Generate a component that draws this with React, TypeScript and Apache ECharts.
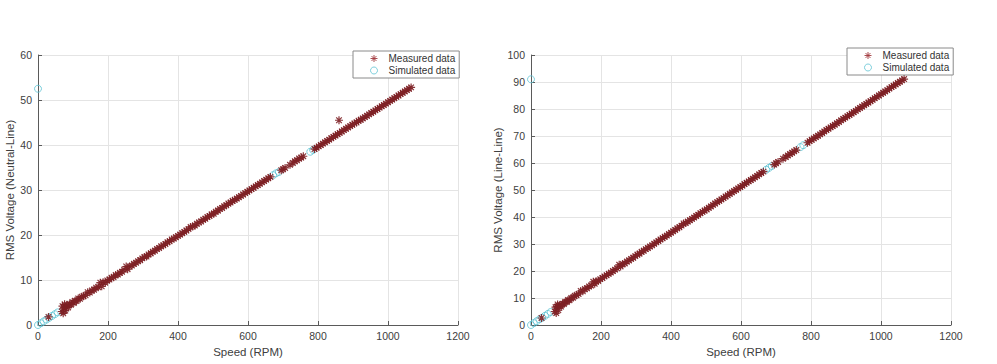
import React, { useEffect, useRef } from "react";
import * as echarts from "echarts";

// ---------- data ----------
const xTicks = [0, 200, 400, 600, 800, 1000, 1200];

// Left panel: RMS Voltage (Neutral-Line)
const measuredNL: number[][] = [
  [30, 1.8], [68, 3.0], [70, 4.2], [72, 2.6], [74, 3.8], [76, 4.6], [78, 3.2], [80, 4.0],
  [83, 4.5], [86, 3.9], [90, 4.6], [94, 4.5], [98, 5.1], [102, 4.9], [106, 5.4], [110, 5.3],
  [115, 5.9], [120, 5.8], [125, 6.3], [130, 6.4], [136, 6.6], [142, 7.3], [148, 7.2], [154, 7.7],
  [160, 7.8], [166, 8.3], [172, 8.4], [178, 9.4], [182, 8.6], [186, 9.5], [192, 9.4], [198, 9.9],
  [204, 10.1], [210, 10.5], [216, 10.6], [222, 11.1], [228, 11.2], [234, 11.6], [240, 11.8], [246, 12.3],
  [252, 13.0], [256, 12.4], [262, 13.0], [268, 13.2], [274, 13.6], [280, 13.8], [286, 14.2], [292, 14.4],
  [298, 14.8], [304, 15.1], [310, 15.2], [316, 15.7], [322, 15.9], [328, 16.3], [334, 16.5], [340, 16.9],
  [346, 17.1], [352, 17.5], [358, 17.7], [364, 18.0], [370, 18.4], [376, 18.6], [382, 19.0], [388, 19.2],
  [394, 19.5], [400, 19.8], [406, 20.1], [412, 20.4], [418, 20.7], [424, 21.0], [430, 21.3], [436, 21.8],
  [442, 21.9], [448, 22.1], [454, 22.5], [460, 22.8], [466, 23.0], [472, 23.4], [478, 23.6], [484, 24.0],
  [490, 24.2], [496, 24.6], [502, 24.7], [508, 25.2], [514, 25.4], [520, 25.8], [526, 26.0], [532, 26.4],
  [538, 26.6], [544, 27.0], [550, 27.2], [556, 27.6], [562, 27.8], [568, 28.1], [574, 28.4], [580, 28.7],
  [586, 29.0], [592, 29.3], [598, 29.6], [604, 29.9], [610, 30.2], [616, 30.5], [622, 30.8], [628, 31.1],
  [634, 31.4], [640, 31.7], [646, 32.0], [652, 32.3], [658, 32.6], [664, 32.9], [695, 34.4], [700, 34.6],
  [706, 34.9], [720, 35.6], [728, 36.0], [734, 36.4], [740, 36.6], [746, 37.0], [752, 37.2], [758, 37.5],
  [790, 39.1], [796, 39.4], [802, 39.7], [808, 40.0], [814, 40.3], [820, 40.6], [826, 40.9], [832, 41.2],
  [838, 41.5], [844, 41.8], [850, 42.1], [856, 42.4], [860, 45.5], [862, 42.7], [868, 43.0], [874, 43.3],
  [880, 43.6], [886, 43.9], [892, 44.2], [898, 44.5], [904, 44.8], [910, 45.0], [916, 45.4], [922, 45.6],
  [928, 45.9], [934, 46.2], [940, 46.5], [946, 46.8], [952, 47.1], [958, 47.4], [964, 47.7], [970, 48.0],
  [976, 48.3], [982, 48.6], [988, 48.9], [994, 49.2], [1000, 49.5], [1006, 49.8], [1012, 50.1], [1018, 50.4],
  [1024, 50.7], [1030, 51.0], [1036, 51.3], [1042, 51.6], [1048, 51.9], [1054, 52.2], [1060, 52.5], [1066, 52.8],
];
const simulatedNL: number[][] = [
  [0, 52.5], [0, 0], [8, 0.4], [16, 0.8], [24, 1.2], [32, 1.6], [40, 2.0], [48, 2.4], [56, 2.8],
  [672, 33.3], [680, 33.7], [688, 34.0], [778, 38.5], [786, 38.9],
];

// Right panel: RMS Voltage (Line-Line)
const measuredLL: number[][] = [
  [30, 2.6], [68, 5.0], [70, 6.6], [72, 4.4], [74, 6.8], [76, 7.6], [78, 5.5], [80, 7.0],
  [83, 7.4], [86, 6.8], [90, 7.9], [94, 7.8], [98, 8.6], [102, 8.5], [106, 9.3], [110, 9.2],
  [115, 10.0], [120, 10.1], [125, 10.8], [130, 11.0], [136, 11.5], [142, 12.6], [148, 12.5], [154, 13.3],
  [160, 13.6], [166, 14.3], [172, 14.6], [178, 16.0], [182, 15.3], [186, 16.2], [192, 16.3], [198, 17.0],
  [204, 17.4], [210, 18.0], [216, 18.4], [222, 19.0], [228, 19.4], [234, 20.0], [240, 20.5], [246, 21.0],
  [252, 22.3], [256, 21.7], [262, 22.6], [268, 22.8], [274, 23.5], [280, 23.9], [286, 24.5], [292, 24.9],
  [298, 25.5], [304, 26.1], [310, 26.4], [316, 27.1], [322, 27.5], [328, 28.1], [334, 28.5], [340, 29.1],
  [346, 29.5], [352, 30.1], [358, 30.6], [364, 31.1], [370, 31.7], [376, 32.1], [382, 32.7], [388, 33.1],
  [394, 33.7], [400, 34.2], [406, 34.7], [412, 35.2], [418, 35.8], [424, 36.2], [430, 36.8], [436, 37.6],
  [442, 37.8], [448, 38.3], [454, 38.8], [460, 39.3], [466, 39.8], [472, 40.4], [478, 40.8], [484, 41.4],
  [490, 41.9], [496, 42.4], [502, 42.8], [508, 43.4], [514, 43.9], [520, 44.5], [526, 45.0], [532, 45.5],
  [538, 46.0], [544, 46.5], [550, 47.0], [556, 47.6], [562, 48.0], [568, 48.6], [574, 49.1], [580, 49.6],
  [586, 50.1], [592, 50.6], [598, 51.1], [604, 51.6], [610, 52.2], [616, 52.7], [622, 53.2], [628, 53.7],
  [634, 54.2], [640, 54.7], [646, 55.2], [652, 55.8], [658, 56.3], [664, 56.8], [695, 59.4], [700, 59.9],
  [706, 60.4], [720, 61.6], [728, 62.2], [734, 62.8], [740, 63.3], [746, 63.8], [752, 64.3], [758, 64.8],
  [790, 67.5], [796, 68.1], [802, 68.6], [808, 69.1], [814, 69.6], [820, 70.1], [826, 70.6], [832, 71.1],
  [838, 71.7], [844, 72.2], [850, 72.7], [856, 73.2], [862, 73.7], [868, 74.2], [874, 74.7], [880, 75.2],
  [886, 75.8], [892, 76.3], [898, 76.8], [904, 77.3], [910, 77.8], [916, 78.3], [922, 78.8], [928, 79.3],
  [934, 79.9], [940, 80.4], [946, 80.9], [952, 81.4], [958, 81.9], [964, 82.4], [970, 82.9], [976, 83.4],
  [982, 84.0], [988, 84.5], [994, 85.0], [1000, 85.5], [1006, 86.0], [1012, 86.5], [1018, 87.0], [1024, 87.6],
  [1030, 88.1], [1036, 88.6], [1042, 89.1], [1048, 89.6], [1054, 90.1], [1060, 90.6], [1066, 91.1],
];
const simulatedLL: number[][] = [
  [0, 91], [0, 0], [8, 0.7], [16, 1.4], [24, 2.1], [32, 2.7], [40, 3.4], [48, 4.1], [56, 4.8],
  [672, 57.5], [680, 58.2], [688, 58.9], [770, 65.9], [778, 66.6],
];

const seriesNames = ["Measured data", "Simulated data"];
const xName = "Speed (RPM)";
const yNames = ["RMS Voltage (Neutral-Line)", "RMS Voltage (Line-Line)"];
const yMax = [60, 100];

// ---------- styles ----------
const FONT = "Liberation Sans, Arial, sans-serif";
const TXT = "#404040";
const AXIS = "#5a5a5a";
const RED = "#7d1f24";
const CYAN = "#5ec3d3";
const ASTERISK = "path://M5,0L5,10M0,5L10,5M1.5,1.5L8.5,8.5M1.5,8.5L8.5,1.5";

const grids = [
  { left: 38, top: 55, width: 420, height: 270 },
  { left: 531, top: 55, width: 420, height: 270 },
];

function xAxis(i: number) {
  return {
    type: "value",
    gridIndex: i,
    min: xTicks[0],
    max: xTicks[xTicks.length - 1],
    interval: 200,
    name: xName,
    nameLocation: "middle",
    nameGap: 20,
    nameTextStyle: { color: TXT, fontSize: 11.5, fontFamily: FONT },
    axisLine: { show: true, lineStyle: { color: AXIS, width: 1 } },
    axisTick: { show: true, inside: true, length: 4, lineStyle: { color: AXIS } },
    axisLabel: {
      color: TXT,
      fontSize: 10.5,
      fontFamily: FONT,
      margin: 5,
      formatter: (v: number) => String(v),
    },
    splitLine: { show: true, lineStyle: { color: "#e4e4e4", width: 1 } },
  };
}
function yAxis(i: number) {
  return {
    type: "value",
    gridIndex: i,
    min: 0,
    max: yMax[i],
    interval: 10,
    name: yNames[i],
    nameLocation: "middle",
    nameRotate: 90,
    nameGap: i === 0 ? 19 : 25,
    nameTextStyle: { color: TXT, fontSize: 11.5, fontFamily: FONT },
    axisLine: { show: true, lineStyle: { color: AXIS, width: 1 } },
    axisTick: { show: true, inside: true, length: 4, lineStyle: { color: AXIS } },
    axisLabel: { color: TXT, fontSize: 10.5, fontFamily: FONT, margin: 6, formatter: (v: number) => String(v) },
    splitLine: { show: true, lineStyle: { color: "#e4e4e4", width: 1 } },
  };
}
function legend(left: number, top: number) {
  return {
    left,
    top,
    orient: "vertical",
    data: [
      {
        name: seriesNames[0],
        icon: ASTERISK,
        itemStyle: { color: "rgba(0,0,0,0)", borderColor: "#a23a3e", borderWidth: 1 },
      },
      {
        name: seriesNames[1],
        icon: "circle",
        itemStyle: { color: "rgba(0,0,0,0)", borderColor: CYAN, borderWidth: 1 },
      },
    ],
    backgroundColor: "#fff",
    borderColor: "#8a8a8a",
    borderWidth: 1,
    borderRadius: 0,
    padding: [2, 4, 2, 17],
    itemGap: 1,
    itemWidth: 7,
    itemHeight: 7,
    selectedMode: false,
    textStyle: { color: "#333", fontSize: 10, fontFamily: FONT, padding: [0, 0, 0, 6], lineHeight: 11 },
  };
}
function measured(i: number, data: number[][]) {
  return {
    name: seriesNames[0],
    type: "scatter",
    xAxisIndex: i,
    yAxisIndex: i,
    data,
    symbol: ASTERISK,
    symbolSize: 8,
    z: 3,
    itemStyle: { color: "rgba(0,0,0,0)", borderColor: RED, borderWidth: 1.2, opacity: 0.9 },
  };
}
function simulated(i: number, data: number[][]) {
  return {
    name: seriesNames[1],
    type: "scatter",
    xAxisIndex: i,
    yAxisIndex: i,
    data,
    symbol: "circle",
    symbolSize: 7,
    z: 2,
    itemStyle: { color: "rgba(0,0,0,0)", borderColor: CYAN, borderWidth: 1 },
  };
}

export default function App() {
  const ref = useRef<HTMLDivElement>(null);
  useEffect(() => {
    if (!ref.current) return;
    const chart = echarts.init(ref.current, undefined, { renderer: "svg" });
    chart.setOption({
      animation: false,
      backgroundColor: "#fff",
      grid: grids,
      xAxis: [xAxis(0), xAxis(1)],
      yAxis: [yAxis(0), yAxis(1)],
      legend: [legend(353, 51), legend(847, 48)],
      series: [
        simulated(0, simulatedNL),
        measured(0, measuredNL),
        simulated(1, simulatedLL),
        measured(1, measuredLL),
      ],
    });
    return () => chart.dispose();
  }, []);
  return (
    <div
      ref={ref}
      style={{ position: "fixed", left: 0, top: 0, width: 997, height: 364, background: "#fff" }}
    />
  );
}
